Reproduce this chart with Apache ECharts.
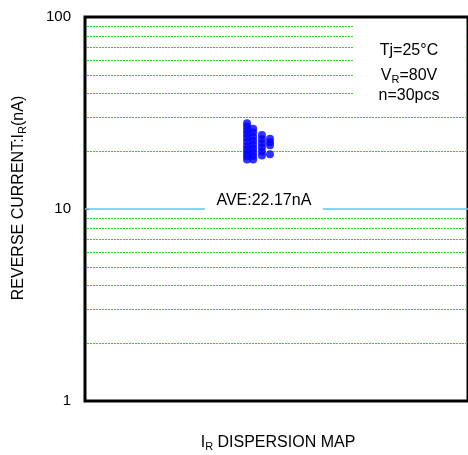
<!DOCTYPE html>
<html>
<head>
<meta charset="utf-8">
<script src="https://cdn.jsdelivr.net/npm/echarts@6/dist/echarts.min.js"></script>
<style>
html,body{margin:0;padding:0;background:#fff;}
#c{width:468px;height:455px;}
</style>
</head>
<body>
<div id="c"></div>
<script>
// Data (values in nA), one array per column of dots
const col1 = [28.0, 26.9, 25.7, 24.6, 23.5, 22.4, 21.3, 20.4, 19.5, 18.8, 18.1];
const col2 = [26.2, 25.0, 23.8, 22.7, 21.6, 20.6, 19.7, 18.9, 18.1];
const col3 = [24.3, 23.1, 22.0, 21.0, 19.9, 19.0];
const col4 = [23.2, 22.3, 21.5, 19.3];
const colX = [42.3, 43.9, 46.2, 48.3];
const gridValues = [2, 3, 4, 5, 6, 7, 8, 9, 20, 30, 40, 50, 60, 70, 80, 90];
const aveLineValue = 10;
const aveLabel = 'AVE:22.17nA';
const aveLabelX = 46.7;
const aveSeg1 = [0, 31.3];
const aveSeg2 = [62.1, 100];
const yTicks = [1, 10, 100];

const cols = [col1, col2, col3, col4];
const points = [];
cols.forEach((c, i) => c.forEach(v => points.push([colX[i], v])));

const FONT = '"Liberation Sans", Arial, sans-serif';
const rich = {
  a: {fontSize: 16, fontFamily: FONT, color: '#000', lineHeight: 19, verticalAlign: 'bottom'},
  s: {fontSize: 11, fontFamily: FONT, color: '#000', lineHeight: 11, verticalAlign: 'bottom', padding: [0, 0, -2, 0]}
};
const chart = echarts.init(document.getElementById('c'));
chart.setOption({
  animation: false,
  backgroundColor: '#fff',
  grid: {left: 85, top: 17, right: 0, bottom: 54, show: true, borderColor: '#000', borderWidth: 3, backgroundColor: 'transparent'},
  xAxis: {type: 'value', min: 0, max: 100, show: false},
  yAxis: {
    type: 'log', logBase: 10, min: 1, max: 100,
    axisLine: {show: false},
    axisTick: {show: true, inside: true, length: 4, lineStyle: {color: '#000'}},
    splitLine: {show: false},
    axisLabel: {color: '#000', fontSize: 15, fontFamily: FONT, margin: 14,
      formatter: v => (yTicks.indexOf(Math.round(v)) >= 0 ? String(Math.round(v)) : '')}
  },
  series: [
    {
      type: 'custom', silent: true, z: 1,
      data: gridValues.map(v => [0, v]),
      renderItem: function (params, api) {
        const v = api.value(1);
        const p1 = api.coord([0, v]);
        const p2 = api.coord([100, v]);
        const y = Math.round(p1[1]) + 0.5;
        return {type: 'line', shape: {x1: p1[0] + 2, y1: y, x2: p2[0], y2: y},
          style: {stroke: '#22e022', lineWidth: 1, lineDash: [2, 1]}};
      }
    },
    {
      type: 'scatter', data: points, symbol: 'circle', symbolSize: 8,
      itemStyle: {color: '#0000ff'}, z: 5
    },
    {
      type: 'line', data: [],
      markLine: {
        silent: true, symbol: 'none', animation: false,
        label: {show: false},
        lineStyle: {color: '#5cc8ea', type: 'solid', width: 1.5},
        data: [
          [{coord: [aveSeg1[0], aveLineValue]}, {coord: [aveSeg1[1], aveLineValue]}],
          [{coord: [aveSeg2[0], aveLineValue]}, {coord: [aveSeg2[1], aveLineValue]}]
        ]
      },
      markPoint: {
        silent: true, animation: false,
        data: [{coord: [aveLabelX, aveLineValue], symbol: 'circle', symbolSize: 1,
          itemStyle: {color: 'rgba(0,0,0,0)'},
          label: {show: true, position: 'inside', offset: [0, -8], formatter: aveLabel,
            color: '#000', fontSize: 16, fontFamily: FONT}}]
      }
    }
  ],
  graphic: [
    {type: 'rect', z: 100, shape: {x: 353, y: 19, width: 113, height: 86}, style: {fill: '#fff'}},
    {type: 'text', z: 101, x: 409, y: 51, style: {text: 'Tj=25°C', fill: '#000', font: '16px ' + FONT, align: 'center', verticalAlign: 'middle'}},
    {type: 'text', z: 101, x: 409, y: 74, style: {text: '{a|V}{s|R}{a|=80V}', align: 'center', verticalAlign: 'middle', rich: rich}},
    {type: 'text', z: 101, x: 409, y: 96, style: {text: 'n=30pcs', fill: '#000', font: '16px ' + FONT, align: 'center', verticalAlign: 'middle'}},
    {type: 'text', z: 101, x: 17, y: 198, rotation: Math.PI / 2, style: {text: '{a|REVERSE CURRENT:I}{s|R}{a|(nA)}', align: 'center', verticalAlign: 'middle', rich: rich}},
    {type: 'text', z: 101, x: 278, y: 441, style: {text: '{a|I}{s|R}{a| DISPERSION MAP}', align: 'center', verticalAlign: 'middle', rich: rich}}
  ]
});
</script>
</body>
</html>
